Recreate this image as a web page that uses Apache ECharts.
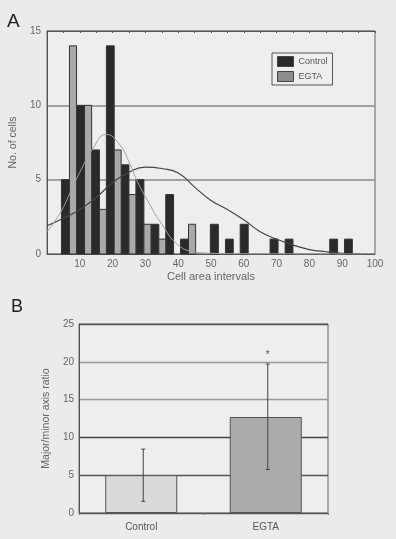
<!DOCTYPE html>
<html>
<head>
<meta charset="utf-8">
<title>cell area histogram</title>
<script src="https://cdn.jsdelivr.net/npm/echarts@6/dist/echarts.min.js"></script>
<style>
  html, body { margin: 0; padding: 0; background: #ebebeb; }
  #chart { width: 396px; height: 539px; }
</style>
</head>
<body>
<div id="chart"></div>
<script>
// panel A: histogram of cell area intervals
var binEdges = [4.4, 9.0, 13.6, 18.1, 22.6, 27.1, 31.7, 36.2, 40.7, 45.3, 49.8,
                54.4, 58.9, 63.5, 68.0, 72.6, 77.1, 81.6, 86.2, 90.7, 95.2];
var controlCounts = [5, 10, 7, 14, 6, 5, 2, 4, 1, 0, 2, 1, 2, 0, 1, 1, 0, 0, 1, 1];
var egtaCounts    = [14, 10, 3, 7, 4, 2, 1, 0, 2, 0, 0, 0, 0, 0, 0, 0, 0, 0, 0, 0];

// fitted curves
var controlFit = [[0, 1.9], [5, 2.4], [10, 3.0], [15, 3.8], [20, 4.8], [25, 5.5], [30, 5.85],
                  [35, 5.75], [40, 5.45], [45, 4.5], [50, 3.6], [55, 3.0], [60, 2.3], [65, 1.5],
                  [70, 1.0], [75, 0.6], [80, 0.3], [85, 0.15], [90, 0.05], [95.5, 0]];
var egtaFit = [[0, 1.5], [4, 2.75], [7, 4.1], [10, 5.5], [14, 7.1], [18, 8.05], [22, 7.4],
               [25, 6.2], [27.3, 5.0], [30, 3.85], [35, 2.0], [40, 0.6], [45, 0.15],
               [50, 0.05], [60, 0.02], [96, 0]];

// panel B: axis ratio
var groups = ['Control', 'EGTA'];
var ratioMean = [5.0, 12.7];
var ratioLow = [1.55, 5.75];
var ratioHigh = [8.45, 19.7];

var chart = echarts.init(document.getElementById('chart'));
var font = 'Liberation Sans, Arial, sans-serif';

function binData(counts) {
  var out = [];
  for (var i = 0; i < counts.length; i++) {
    out.push([binEdges[i], binEdges[i + 1], counts[i]]);
  }
  return out;
}

function histRender(fill, second) {
  return function (params, api) {
    var s = api.value(0), e = api.value(1), v = api.value(2);
    if (!v) return;
    var split = s + (e - s) * 0.53;
    var x0 = second ? split : s;
    var x1 = second ? e : split;
    var p0 = api.coord([x0, v]);
    var p1 = api.coord([x1, 0]);
    return {
      type: 'rect',
      shape: { x: p0[0], y: p0[1], width: p1[0] - p0[0], height: p1[1] - p0[1] },
      style: { fill: fill, stroke: '#333', lineWidth: 1 }
    };
  };
}

var errData = groups.map(function (g, i) { return [i, ratioLow[i], ratioHigh[i]]; });

var option = {
  backgroundColor: '#ebebeb',
  animation: false,
  textStyle: { fontFamily: font },
  graphic: [
    { type: 'text', left: 7, top: 12, style: { text: 'A', fontSize: 19, fill: '#222', fontFamily: font } },
    { type: 'text', left: 11, top: 298, style: { text: 'B', fontSize: 18, fill: '#222', fontFamily: font } }
  ],
  legend: {
    left: 272, top: 53,
    orient: 'vertical',
    itemWidth: 16, itemHeight: 10, itemGap: 4,
    padding: [3, 5, 3, 5],
    borderColor: '#555', borderWidth: 1,
    backgroundColor: '#eeeeee',
    textStyle: { fontSize: 9, color: '#555', fontFamily: font },
    data: [
      { name: 'Control', icon: 'rect', itemStyle: { color: '#2a2a2a', borderColor: '#444', borderWidth: 1 } },
      { name: 'EGTA', icon: 'rect', itemStyle: { color: '#8c8c8c', borderColor: '#444', borderWidth: 1 } }
    ]
  },
  grid: [
    { left: 40, right: 21, top: 31, bottom: 285, show: true, backgroundColor: '#eeeeee', borderColor: '#666', borderWidth: 1 },
    { left: 79, right: 68, top: 324, bottom: 26, show: true, backgroundColor: '#eeeeee', borderColor: '#666', borderWidth: 1 }
  ],
  xAxis: [
    {
      gridIndex: 0, type: 'value', min: 0, max: 100, interval: 10,
      name: 'Cell area intervals', nameLocation: 'middle', nameGap: 17,
      nameTextStyle: { fontSize: 11, color: '#666' },
      axisLine: { lineStyle: { color: '#555' } },
      axisTick: { show: false },
      axisLabel: { fontSize: 10, color: '#666', margin: 5,
        formatter: function (v) { return v === 0 ? '' : v; } },
      splitLine: { show: false }
    },
    {
      gridIndex: 0, type: 'value', position: 'top', min: 0, max: 100, interval: 5,
      axisLine: { lineStyle: { color: '#555' } },
      axisTick: { inside: true, length: 2, lineStyle: { color: '#555' } },
      axisLabel: { show: false },
      splitLine: { show: false }
    },
    {
      gridIndex: 1, type: 'category', data: groups,
      axisLine: { lineStyle: { color: '#555' } },
      axisTick: { show: true, length: 2, lineStyle: { color: '#777' } },
      axisLabel: { fontSize: 10, color: '#555', margin: 9 }
    }
  ],
  yAxis: [
    {
      gridIndex: 0, type: 'value', min: 0, max: 15, interval: 5,
      name: 'No. of cells', nameLocation: 'middle', nameGap: 20,
      nameTextStyle: { fontSize: 10.5, color: '#666' },
      axisLine: { show: true, lineStyle: { color: '#555' } },
      axisTick: { show: false },
      axisLabel: { fontSize: 10, color: '#666', margin: 6 },
      splitLine: { lineStyle: { color: '#888', width: 1.5 } }
    },
    {
      gridIndex: 1, type: 'value', min: 0, max: 25, interval: 5,
      name: 'Major/minor axis ratio', nameLocation: 'middle', nameGap: 26,
      nameTextStyle: { fontSize: 10.5, color: '#666' },
      axisLine: { show: true, lineStyle: { color: '#555' } },
      axisTick: { show: false },
      axisLabel: { fontSize: 10, color: '#666', margin: 5 },
      splitLine: { lineStyle: { color: ['#555', '#555', '#444', '#999', '#999', '#555'], width: 1.3 } }
    }
  ],
  series: [
    {
      name: 'Control', type: 'custom', xAxisIndex: 0, yAxisIndex: 0,
      renderItem: histRender('#2a2a2a', false),
      encode: { x: [0, 1], y: 2 },
      data: binData(controlCounts), z: 2
    },
    {
      name: 'EGTA', type: 'custom', xAxisIndex: 0, yAxisIndex: 0,
      renderItem: histRender('#a9a9a9', true),
      encode: { x: [0, 1], y: 2 },
      data: binData(egtaCounts), z: 2
    },
    {
      name: 'Control fit', type: 'line', xAxisIndex: 0, yAxisIndex: 0,
      data: controlFit, smooth: true, showSymbol: false, z: 4,
      lineStyle: { color: '#444', width: 1.2 }
    },
    {
      name: 'EGTA fit', type: 'line', xAxisIndex: 0, yAxisIndex: 0,
      data: egtaFit, smooth: true, showSymbol: false, z: 4,
      lineStyle: { color: '#a0a0a0', width: 1 }
    },
    {
      name: 'ratio', type: 'bar', xAxisIndex: 2, yAxisIndex: 1,
      barWidth: 72,
      data: ratioMean.map(function (v, i) {
        return { value: v, itemStyle: { color: i === 0 ? '#d9d9d9' : '#ababab' } };
      }),
      itemStyle: { borderColor: '#555', borderWidth: 1 }
    },
    {
      name: 'sd', type: 'custom', xAxisIndex: 2, yAxisIndex: 1, z: 5,
      encode: { x: 0, y: [1, 2] },
      data: errData,
      renderItem: function (params, api) {
        var lo = api.coord([api.value(0), api.value(1)]);
        var hi = api.coord([api.value(0), api.value(2)]);
        var x = lo[0] + 2;
        var kids = [
          { type: 'line', shape: { x1: x, y1: lo[1], x2: x, y2: hi[1] }, style: { stroke: '#444', lineWidth: 1 } },
          { type: 'line', shape: { x1: x - 2, y1: lo[1], x2: x + 2, y2: lo[1] }, style: { stroke: '#444', lineWidth: 1 } },
          { type: 'line', shape: { x1: x - 2, y1: hi[1], x2: x + 2, y2: hi[1] }, style: { stroke: '#444', lineWidth: 1 } }
        ];
        if (params.dataIndex === 1) {
          kids.push({ type: 'text', x: x, y: hi[1] - 4,
            style: { text: '*', fontSize: 10, fill: '#555', align: 'center', verticalAlign: 'bottom', fontFamily: font } });
        }
        return { type: 'group', children: kids };
      }
    }
  ]
};

chart.setOption(option);
</script>
</body>
</html>
